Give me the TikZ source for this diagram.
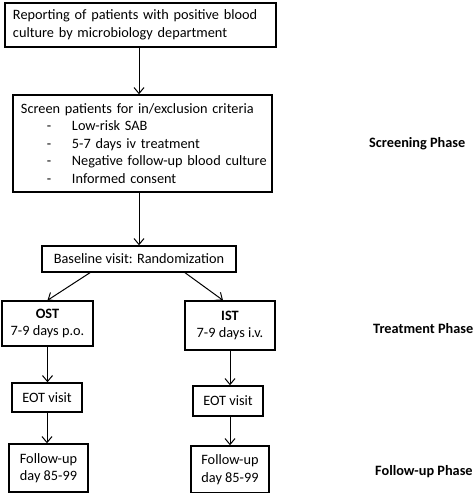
\documentclass[tikz,border=0pt]{standalone}
\usepackage{fontspec}
\setmainfont{Carlito}
\usetikzlibrary{arrows.meta}
\begin{document}
\begin{tikzpicture}[x=1bp,y=-1bp,
  box/.style={draw=black, line width=1.4bp, inner sep=0pt, font=\fontsize{14.3bp}{17.5bp}\selectfont, align=center},
  lbox/.style={box, align=left},
  arr/.style={line width=1bp, -{Straight Barb[length=6bp,width=10bp,line width=1bp]}},
  phase/.style={anchor=west, inner sep=0pt, font=\fontsize{14.3bp}{17bp}\selectfont\bfseries}
]
\useasboundingbox (0,0) rectangle (473,493);
\node[lbox, minimum width=271bp, minimum height=44bp, text width=255bp] (b1) at (140.5,25)
  {\mbox{Reporting of patients with positive blood}\\\mbox{culture by microbiology department}};
\node[lbox, minimum width=259bp, minimum height=97bp, text width=243bp] (b2) at (142.5,143.5)
  {\mbox{Screen patients for in/exclusion criteria}\\
   \hspace*{26bp}\makebox[25bp][l]{-}\mbox{Low-risk SAB}\\
   \hspace*{26bp}\makebox[25bp][l]{-}\mbox{5-7 days iv treatment}\\
   \hspace*{26bp}\makebox[25bp][l]{-}\mbox{Negative follow-up blood culture}\\
   \hspace*{26bp}\makebox[25bp][l]{-}\mbox{Informed consent}};
\node[box, minimum width=194bp, minimum height=26bp] (b3) at (139,259) {Baseline visit: Randomization};
\node[box, minimum width=91bp, minimum height=45bp] (ost) at (47.5,323.5) {\textbf{OST}\\7-9 days p.o.};
\node[box, minimum width=90bp, minimum height=49bp] (ist) at (230,325.5) {\textbf{IST}\\7-9 days i.v.};
\node[box, minimum width=70bp, minimum height=29bp] (eot1) at (47,397.5) {EOT visit};
\node[box, minimum width=70bp, minimum height=30bp] (eot2) at (228,401) {EOT visit};
\node[box, minimum width=79bp, minimum height=48bp] (fu1) at (48.5,468) {Follow-up\\day 85-99};
\node[box, minimum width=78bp, minimum height=47bp] (fu2) at (230,469.5) {Follow-up\\day 85-99};

\node[phase] (p1) at (369,144) {Screening Phase};
\node[phase] (p2) at (373,329) {Treatment Phase};
\node[phase] (p3) at (375,472) {Follow-up Phase};

\draw[arr] (b1.south -| b3.north) -- (b2.north -| b3.north);
\draw[arr] (b2.south -| b3.north) -- (b3.north);
\draw[arr] ([xshift=-49bp]b3.south) -- (ost.north);
\draw[arr] ([xshift=46bp]b3.south) -- ([xshift=-7bp]ist.north);
\draw[arr] (ost.south) -- (ost.south |- eot1.north);
\draw[arr] (ist.south) -- (ist.south |- eot2.north);
\draw[arr] (eot1.south) -- (eot1.south |- fu1.north);
\draw[arr] (eot2.south -| ist.south) -- (fu2.north);
\end{tikzpicture}
\end{document}
